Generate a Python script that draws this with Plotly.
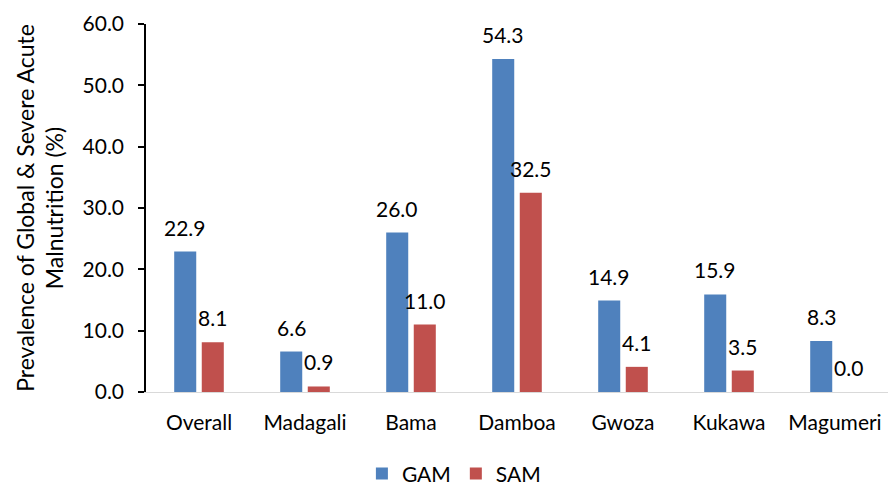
import plotly.graph_objects as go

categories = ["Overall", "Madagali", "Bama", "Damboa", "Gwoza", "Kukawa", "Magumeri"]
gam_values = [22.9, 6.6, 26.0, 54.3, 14.9, 15.9, 8.3]
sam_values = [8.1, 0.9, 11.0, 32.5, 4.1, 3.5, 0.0]
y_ticks = [0, 10, 20, 30, 40, 50, 60]

FONT = "Lato, 'Open Sans', sans-serif"
GAM_COLOR = "#4f81bd"
SAM_COLOR = "#c0504d"

fig = go.Figure()
fig.add_trace(go.Bar(x=categories, y=gam_values, name="GAM",
                     marker=dict(color=GAM_COLOR, line=dict(width=0))))
fig.add_trace(go.Bar(x=categories, y=sam_values, name="SAM",
                     marker=dict(color=SAM_COLOR, line=dict(width=0))))

# value labels above each bar
slot = (1 - 0.48) / 2
for i, (g, s) in enumerate(zip(gam_values, sam_values)):
    for val, off in ((g, -slot / 2), (s, slot / 2)):
        fig.add_annotation(x=i + off, y=val, xref="x", yref="y",
                           text=f"{val:.1f}", showarrow=False,
                           yanchor="bottom", yshift=10,
                           font=dict(family=FONT, size=21, color="#000000"))

fig.update_layout(
    width=890, height=485,
    margin=dict(l=146, r=2, t=24, b=93, autoexpand=False),
    paper_bgcolor="white", plot_bgcolor="white",
    barmode="group", bargap=0.48, bargroupgap=0.2,
    font=dict(family=FONT, size=21, color="#000000"),
    showlegend=True,
    legend=dict(orientation="h", xref="container", x=0.51, xanchor="center",
                yref="container", y=0.023, yanchor="middle",
                font=dict(family=FONT, size=21), traceorder="normal"),
    xaxis=dict(showline=True, linecolor="#d9d9d9", linewidth=1, ticks="",
               tickfont=dict(family=FONT, size=21), showgrid=False,
               automargin=False, ticklabelstandoff=12),
    yaxis=dict(range=[0, 60], tickvals=y_ticks,
               ticktext=[f"{v:.1f}" for v in y_ticks],
               showline=True, linecolor="#000000", linewidth=1.5,
               ticks="outside", ticklen=6, tickcolor="#000000", tickwidth=1.5,
               showgrid=False, zeroline=False, automargin=False,
               ticklabelstandoff=10,
               tickfont=dict(family=FONT, size=21),
               title=dict(text="Prevalence of Global & Severe Acute<br>Malnutrition (%)",
                          font=dict(family=FONT, size=23), standoff=12)),
)

fig.write_html("out.html")
